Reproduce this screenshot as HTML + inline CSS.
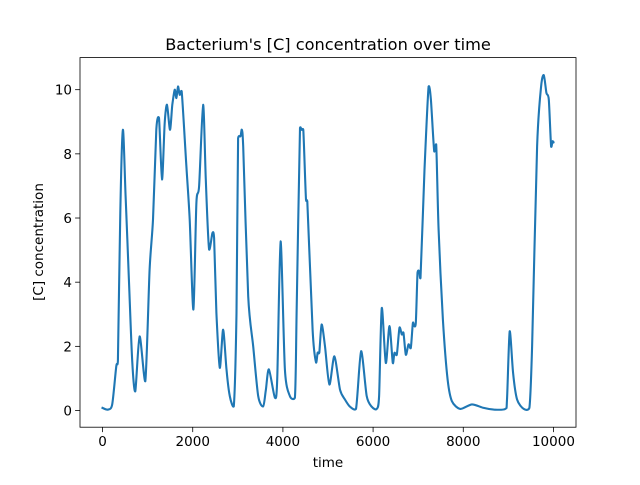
<!DOCTYPE html>
<html><head><meta charset="utf-8"><style>
body{margin:0;background:#fff}
text{font-family:"DejaVu Sans","Liberation Sans",sans-serif;fill:#000}
</style></head><body>
<svg id="chart" width="640" height="480" viewBox="0 0 640 480">
<rect width="640" height="480" fill="#fff"/>
<text x="328" y="50" font-size="16.2" text-anchor="middle">Bacterium's [C] concentration over time</text>
<g id="plot"></g>
<rect x="80" y="57.6" width="496" height="369.6" fill="none" stroke="#000" stroke-width="0.8"/>
<text x="328" y="467" font-size="13.5" text-anchor="middle">time</text>
<text transform="translate(43,242) rotate(-90)" font-size="13.5" text-anchor="middle">[C] concentration</text>
</svg>
<script>
const times=[0,118,215,304,341,393,452,511,585,659,726,822,948,1044,1119,1193,1252,1319,1378,1430,1496,1548,1600,1637,1674,1711,1756,1859,1933,2015,2081,2141,2230,2289,2363,2437,2474,2526,2600,2674,2748,2822,2911,2970,3007,3059,3089,3119,3230,3341,3452,3563,3622,3689,3822,3874,3948,4044,4156,4267,4304,4378,4415,4452,4511,4541,4659,4733,4770,4807,4859,4933,5030,5141,5267,5378,5489,5622,5733,5859,5970,6081,6133,6193,6281,6363,6437,6474,6526,6585,6637,6674,6726,6785,6837,6882,6911,6948,6985,7022,7052,7141,7230,7282,7356,7400,7452,7548,7652,7748,7933,8193,8452,8674,8933,8970,9030,9104,9193,9341,9467,9526,9637,9726,9785,9844,9896,9948,9978,10000];
const values=[0.08,0.03,0.19,1.38,1.54,6.17,8.75,6.68,4.08,1.5,0.6,2.31,0.91,4.39,5.95,8.75,9.12,7.2,8.96,9.53,8.75,9.53,10.0,9.74,10.1,9.84,9.95,7.61,5.95,3.15,6.47,6.99,9.53,7.2,5.02,5.53,5.38,3.04,1.33,2.52,1.28,0.45,0.13,3.04,8.49,8.55,8.75,8.23,3.56,2.0,0.45,0.13,0.65,1.28,0.4,0.97,5.27,1.28,0.45,0.4,3.04,8.81,8.75,8.75,6.57,6.52,2.52,1.5,1.8,1.8,2.68,2.0,0.81,1.69,0.65,0.34,0.12,0.05,1.85,0.45,0.12,0.05,0.45,3.2,1.48,2.63,1.48,1.8,1.74,2.58,2.37,2.42,1.74,2.06,1.95,2.73,2.63,2.73,4.29,4.34,4.13,7.51,10.1,9.69,8.08,8.29,5.64,2.83,0.97,0.29,0.05,0.19,0.08,0.03,0.05,0.34,2.47,1.17,0.34,0.05,0.08,2.0,8.23,10.1,10.45,9.9,9.69,8.23,8.39,8.36];
const xTicks=[0,2000,4000,6000,8000,10000];
const yTicks=[0,2,4,6,8,10];
const X0=80,X1=576,Y0=427.2,Y1=57.6,xmin=-500,xmax=10500,ymin=-0.52,ymax=11.0;
const sx=t=>X0+(t-xmin)/(xmax-xmin)*(X1-X0);
const sy=v=>Y0-(v-ymin)/(ymax-ymin)*(Y0-Y1);
const NS='http://www.w3.org/2000/svg';
const g=document.getElementById('plot');
function mk(tag,attrs){const e=document.createElementNS(NS,tag);for(const k in attrs)e.setAttribute(k,attrs[k]);g.appendChild(e);return e;}
xTicks.forEach(t=>{
  const l=mk('line',{x1:sx(t),x2:sx(t),y1:Y0,y2:Y0+4.9,stroke:'#000','stroke-width':0.8});
  
  
  const tx=mk('text',{x:sx(t),y:Y0+19,'font-size':13.5,'text-anchor':'middle'});
  tx.textContent=String(t);
  
  
});
yTicks.forEach(v=>{
  const l=mk('line',{x1:X0-4.9,x2:X0,y1:sy(v),y2:sy(v),stroke:'#000','stroke-width':0.8});
  
  
  const tx=mk('text',{x:X0-8,y:sy(v)+5,'font-size':13.5,'text-anchor':'end'});
  tx.textContent=String(v);
  
  
});
const P=times.map((t,i)=>[sx(t),sy(values[i])]);
let d='M'+P[0][0].toFixed(1)+','+P[0][1].toFixed(1);
const k=0.13;
const cl=(v,a,b)=>Math.max(Math.min(a,b)-2,Math.min(Math.max(a,b)+2,v));
for(let i=0;i<P.length-1;i++){
  const p0=P[Math.max(0,i-1)],p1=P[i],p2=P[i+1],p3=P[Math.min(P.length-1,i+2)];
  const c1=[p1[0]+(p2[0]-p0[0])*k,cl(p1[1]+(p2[1]-p0[1])*k,p1[1],p2[1])];
  const c2=[p2[0]-(p3[0]-p1[0])*k,cl(p2[1]-(p3[1]-p1[1])*k,p1[1],p2[1])];
  d+=' C'+c1[0].toFixed(1)+','+c1[1].toFixed(1)+' '+c2[0].toFixed(1)+','+c2[1].toFixed(1)+' '+p2[0].toFixed(1)+','+p2[1].toFixed(1);
}
const p=mk('path',{d:d,fill:'none',stroke:'#1f77b4','stroke-width':2.1,'stroke-linejoin':'round','stroke-linecap':'square'});


</script>
</body></html>
